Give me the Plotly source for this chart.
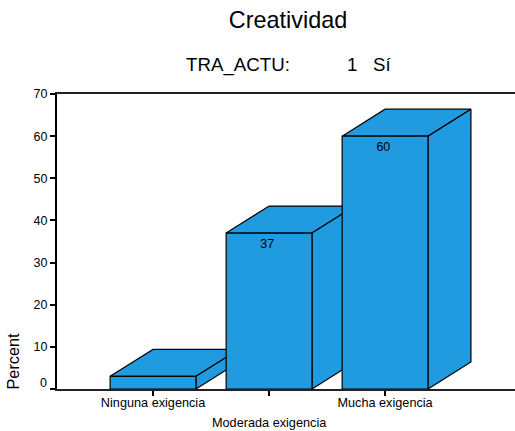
import plotly.graph_objects as go

categories = ["Ninguna exigencia", "Moderada exigencia", "Mucha exigencia"]
positions = [1, 2, 3]
values = [3, 37, 60]
value_labels = ["", "37", "60"]
y_ticks = [0, 10, 20, 30, 40, 50, 60, 70]

FILL = "#219BDF"
HALF = 0.37
DX = 0.37
DY = 6.4
LABEL_DROP = 1.4
FONT = "Liberation Sans, Arial, sans-serif"

fig = go.Figure()


def face(xs, ys):
    fig.add_trace(go.Scatter(
        x=xs, y=ys, mode="lines", fill="toself", fillcolor=FILL,
        line=dict(color="black", width=1.2), hoverinfo="skip", showlegend=False,
    ))


for p, v in zip(positions, values):
    l, r = p - HALF, p + HALF
    face([l, l + DX, r + DX, r, l], [v, v + DY, v + DY, v, v])
    face([r, r + DX, r + DX, r, r], [0, DY, v + DY, v, 0])
    face([l, r, r, l, l], [0, 0, v, v, 0])

fig.add_trace(go.Scatter(
    x=[p - 0.015 for p in positions], y=[v - LABEL_DROP for v in values],
    mode="text", text=value_labels,
    textposition="bottom center", textfont=dict(size=12.5, color="black", family=FONT),
    hoverinfo="skip", showlegend=False,
))

fig.update_layout(
    width=515, height=431, autosize=False,
    margin=dict(l=57, r=0, t=94, b=42),
    paper_bgcolor="white", plot_bgcolor="white",
    font=dict(family=FONT, color="black"),
    showlegend=False,
    title=dict(text="Creatividad", x=288 / 515, xanchor="center", y=0.955, yanchor="middle",
               font=dict(size=23.4, color="black", family=FONT)),
    xaxis=dict(
        range=[0.172, 4.12], showgrid=False, zeroline=False,
        tickmode="array", tickvals=positions,
        ticktext=[categories[0], "", categories[2]],
        ticks="outside", ticklen=5, tickwidth=2, tickcolor="black",
        ticklabelstandoff=-4,
        tickfont=dict(size=12.7, color="black", family=FONT),
        showline=True, linecolor="#222222", linewidth=2, mirror=True,
    ),
    yaxis=dict(
        range=[0, 70], showgrid=False, zeroline=False,
        tickmode="array", tickvals=y_ticks,
        ticktext=[""] + [str(t) for t in y_ticks[1:]],
        ticks="outside", ticklen=5, tickwidth=2, tickcolor="black",
        tickfont=dict(size=12.5, color="black", family=FONT),
        showline=True, linecolor="black", linewidth=2,
    ),
    annotations=[
        dict(text="TRA_ACTU:" + "\u00a0" * 11 + "1" + "\u00a0" * 3 + "Sí",
             xref="paper", yref="paper", x=(184 - 57) / 458, y=1 + 29 / 295,
             xanchor="left", yanchor="middle", showarrow=False,
             font=dict(size=18.7, color="black", family=FONT)),
        dict(text="Percent", xref="paper", yref="paper", x=-45 / 458, y=0, yshift=-3,
             xanchor="center", yanchor="bottom", textangle=-90, showarrow=False,
             font=dict(size=16.3, color="black", family=FONT)),
        dict(text=categories[1], xref="x", yref="paper", x=positions[1], y=-34 / 295,
             xanchor="center", yanchor="middle", showarrow=False,
             font=dict(size=12.7, color="black", family=FONT)),
        dict(text=str(y_ticks[0]), xref="paper", yref="y", x=-8 / 458, y=y_ticks[0], yshift=6,
             xanchor="right", yanchor="middle", showarrow=False, xshift=0,
             font=dict(size=12.5, color="black", family=FONT)),
    ],
)

fig.write_html("out.html", post_script="document.body.style.margin='0';",
               config={"displayModeBar": False})
